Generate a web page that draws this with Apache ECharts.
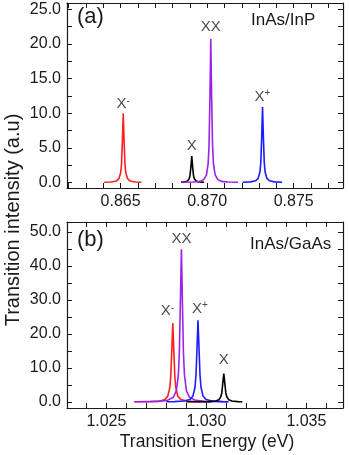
<!DOCTYPE html>
<html><head><meta charset="utf-8">
<script src="https://cdn.jsdelivr.net/npm/echarts@6/dist/echarts.min.js"></script>
<style>html,body{margin:0;padding:0;background:#fff}#c{width:349px;height:455px}</style>
</head><body><div id="c"></div>
<script>
// ---------- Panel (a): InAs/InP ----------
const aXmX = [0.86405, 0.86445, 0.86475, 0.8649, 0.865, 0.86505, 0.8651, 0.86515, 0.8652, 0.86525, 0.8653, 0.8654, 0.86555, 0.86585, 0.8662];
const aXmY = [0.03, 0.07, 0.2, 0.55, 1.4, 2.6, 5.9, 10.0, 5.9, 2.6, 1.4, 0.55, 0.2, 0.07, 0.03];
const aX0X = [0.86849, 0.86871, 0.86886, 0.86896, 0.86901, 0.86906, 0.86911, 0.86916, 0.86921, 0.86926, 0.86936, 0.86951, 0.86982];
const aX0Y = [0.03, 0.08, 0.2, 0.52, 1.0, 2.25, 3.8, 2.25, 1.0, 0.52, 0.2, 0.08, 0.02];
const aXXX = [0.86853, 0.86921, 0.86961, 0.86981, 0.86996, 0.87006, 0.87011, 0.87016, 0.87021, 0.87026, 0.87031, 0.87036, 0.87046, 0.87061, 0.87081, 0.87121, 0.87178];
const aXXY = [0.03, 0.07, 0.15, 0.45, 1.1, 2.8, 5.5, 12.2, 20.7, 12.2, 5.5, 2.8, 1.1, 0.45, 0.15, 0.07, 0.03];
const aXpX = [0.87205, 0.8725, 0.8728, 0.87295, 0.87305, 0.8731, 0.87315, 0.8732, 0.87325, 0.8733, 0.87335, 0.87345, 0.8736, 0.8739, 0.87433];
const aXpY = [0.04, 0.08, 0.24, 0.6, 1.5, 2.9, 6.4, 10.9, 6.4, 2.9, 1.5, 0.6, 0.24, 0.08, 0.04];

// ---------- Panel (b): InAs/GaAs ----------
const bXmX = [1.0264, 1.0272, 1.0277, 1.02792, 1.02807, 1.02817, 1.02822, 1.02827, 1.02832, 1.02837, 1.02842, 1.02847, 1.02857, 1.02872, 1.02902, 1.0295, 1.0302];
const bXmY = [0.03, 0.08, 0.23, 0.7, 1.7, 4.2, 7.7, 15.3, 23.2, 15.3, 7.7, 4.2, 1.7, 0.7, 0.23, 0.08, 0.03];
const bXXX = [1.0264, 1.02755, 1.02805, 1.02835, 1.0285, 1.0286, 1.02865, 1.0287, 1.02875, 1.0288, 1.02885, 1.0289, 1.029, 1.02915, 1.02945, 1.02995, 1.0311];
const bXXY = [0.04, 0.15, 0.45, 1.35, 3.3, 8.1, 14.8, 29.6, 44.9, 29.6, 14.8, 8.1, 3.3, 1.35, 0.45, 0.15, 0.04];
const bXpX = [1.028, 1.02838, 1.02888, 1.02918, 1.02933, 1.02943, 1.02948, 1.02953, 1.02958, 1.02963, 1.02968, 1.02973, 1.02983, 1.02998, 1.03028, 1.03078, 1.0311];
const bXpY = [0.05, 0.08, 0.24, 0.72, 1.75, 4.3, 7.9, 15.8, 24.0, 15.8, 7.9, 4.3, 1.75, 0.72, 0.24, 0.08, 0.05];
const bX0X = [1.029, 1.02967, 1.03017, 1.03047, 1.03062, 1.03072, 1.03077, 1.03082, 1.03087, 1.03092, 1.03097, 1.03102, 1.03112, 1.03127, 1.03157, 1.0318];
const bX0Y = [0.02, 0.03, 0.08, 0.25, 0.6, 1.5, 2.7, 5.5, 8.3, 5.5, 2.7, 1.5, 0.6, 0.25, 0.08, 0.04];

// ---------- Peak labels ----------
const aLabX = [0.86515, 0.86911, 0.87021, 0.8732];
const aLabY = [10.0, 4.0, 21.1, 11.1];
const aLabMain = ['X', 'X', 'XX', 'X'];
const aLabSup = ['-', '', '', '+'];
const bLabX = [1.02805, 1.02875, 1.02968, 1.03087];
const bLabY = [24.0, 45.2, 24.8, 9.6];
const bLabMain = ['X', 'XX', 'X', 'X'];
const bLabSup = ['-', '', '+', ''];

// ---------- Ticks ----------
const aXTicks = [0.862, 0.863, 0.864, 0.865, 0.866, 0.867, 0.868, 0.869, 0.870, 0.871, 0.872, 0.873, 0.874, 0.875, 0.876, 0.877];
const aXLabels = [0.865, 0.870, 0.875];
const aYTicks = [0, 2.5, 5, 7.5, 10, 12.5, 15, 17.5, 20, 22.5, 25];
const aYLabels = [0, 5, 10, 15, 20, 25];
const bXTicks = [1.024, 1.025, 1.026, 1.027, 1.028, 1.029, 1.030, 1.031, 1.032, 1.033, 1.034, 1.035, 1.036];
const bXLabels = [1.025, 1.030, 1.035];
const bYTicks = [0, 5, 10, 15, 20, 25, 30, 35, 40, 45, 50];
const bYLabels = [0, 10, 20, 30, 40, 50];

const FONT = 'Liberation Sans, Arial, sans-serif';
const AX = '#1a1a1a';

function zip(xs, ys) { return xs.map((x, i) => [x, ys[i]]); }

function xAxis(grid, pos, min, max, ticks, labels, show) {
  return {
    type: 'value', gridIndex: grid, position: pos, min: min, max: max,
    axisLine: { show: true, onZero: false, lineStyle: { color: AX, width: 1.2 } },
    axisTick: { show: true, inside: true, length: 5, customValues: ticks, lineStyle: { color: AX, width: 1 } },
    axisLabel: { show: show, customValues: labels, formatter: v => v.toFixed(3), color: AX, fontSize: 16, fontFamily: FONT, margin: 6 },
    splitLine: { show: false }
  };
}
function yAxis(grid, pos, min, max, ticks, labels, show) {
  return {
    type: 'value', gridIndex: grid, position: pos, min: min, max: max,
    axisLine: { show: true, onZero: false, lineStyle: { color: AX, width: 1.2 } },
    axisTick: { show: true, inside: true, length: 5, customValues: ticks, lineStyle: { color: AX, width: 1 } },
    axisLabel: { show: show, customValues: labels, formatter: v => v.toFixed(1), color: AX, fontSize: 16, fontFamily: FONT, margin: 6 },
    splitLine: { show: false }
  };
}
function line(xi, yi, xs, ys, color) {
  return { type: 'line', xAxisIndex: xi, yAxisIndex: yi, data: zip(xs, ys), showSymbol: false, symbol: 'none',
    lineStyle: { color: color, width: 1.6 }, itemStyle: { color: color }, animation: false };
}
function labels(xi, yi, xs, ys, mains, sups) {
  return { type: 'scatter', xAxisIndex: xi, yAxisIndex: yi, symbolSize: 0, animation: false, silent: true,
    data: xs.map((x, i) => ({ value: [x, ys[i]], label: { formatter: '{m|' + mains[i] + '}' + (sups[i] ? '{s|' + sups[i] + '}' : '') } })),
    label: { show: true, position: 'top', distance: 1, color: AX,
      rich: { m: { fontSize: 15, fontFamily: FONT, color: AX, lineHeight: 16 },
              s: { fontSize: 10, fontFamily: FONT, color: AX, verticalAlign: 'top', lineHeight: 16 } } } };
}

const RED = '#ff1f1f', BLK = '#000000', PUR = '#9b22e6', BLU = '#1c1cff';

const option = {
  backgroundColor: '#fff',
  grid: [
    { left: 67, top: 3, width: 276, height: 185 },
    { left: 67, top: 222, width: 276, height: 186 }
  ],
  xAxis: [
    xAxis(0, 'bottom', 0.8619, 0.87785, aXTicks, aXLabels, true),
    xAxis(0, 'top', 0.8619, 0.87785, aXTicks, aXLabels, false),
    xAxis(1, 'bottom', 1.02303, 1.03683, bXTicks, bXLabels, true),
    xAxis(1, 'top', 1.02303, 1.03683, bXTicks, bXLabels, false)
  ],
  yAxis: [
    yAxis(0, 'left', -0.8, 25.9, aYTicks, aYLabels, true),
    yAxis(0, 'right', -0.8, 25.9, aYTicks, aYLabels, false),
    yAxis(1, 'left', -1.8, 52.9, bYTicks, bYLabels, true),
    yAxis(1, 'right', -1.8, 52.9, bYTicks, bYLabels, false)
  ],
  series: [
    line(0, 0, aXmX, aXmY, RED),
    line(0, 0, aX0X, aX0Y, BLK),
    line(0, 0, aXXX, aXXY, PUR),
    line(0, 0, aXpX, aXpY, BLU),
    line(2, 2, bXmX, bXmY, RED),
    line(2, 2, bXXX, bXXY, PUR),
    line(2, 2, bXpX, bXpY, BLU),
    line(2, 2, bX0X, bX0Y, BLK),
    labels(0, 0, aLabX, aLabY, aLabMain, aLabSup),
    labels(2, 2, bLabX, bLabY, bLabMain, bLabSup)
  ],
  graphic: [
    { type: 'text', left: 77, top: 6, style: { text: '(a)', font: '22px ' + FONT, fill: AX } },
    { type: 'text', left: 251, top: 12, style: { text: 'InAs/InP', font: '17px ' + FONT, fill: AX } },
    { type: 'text', left: 77, top: 229, style: { text: '(b)', font: '22px ' + FONT, fill: AX } },
    { type: 'text', left: 250, top: 236, style: { text: 'InAs/GaAs', font: '17px ' + FONT, fill: AX } },
    { type: 'text', x: 13, y: 220, rotation: Math.PI / 2,
      style: { text: 'Transition intensity (a.u)', font: '20px ' + FONT, fill: AX, align: 'center', verticalAlign: 'middle' } },
    { type: 'text', x: 207, y: 442,
      style: { text: 'Transition Energy (eV)', font: '17.5px ' + FONT, fill: AX, align: 'center', verticalAlign: 'middle' } }
  ]
};
const chart = echarts.init(document.getElementById('c'), null, { renderer: 'canvas' });
chart.setOption(option);
</script>
</body></html>
